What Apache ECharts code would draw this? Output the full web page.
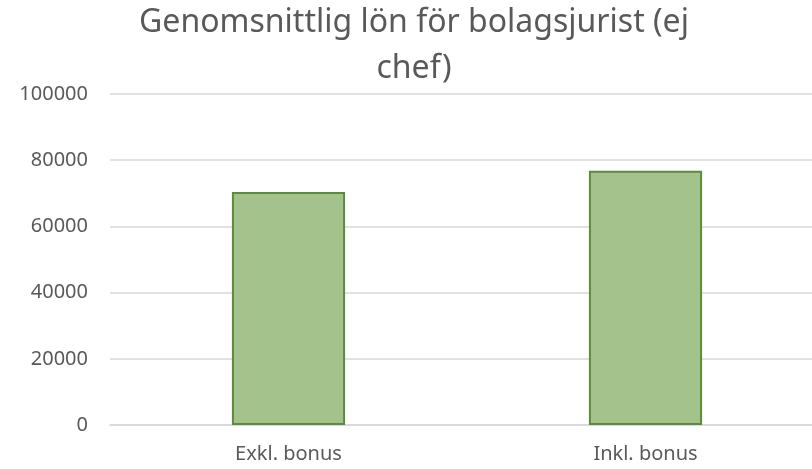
<!DOCTYPE html>
<html>
<head>
<meta charset="utf-8">
<script src="https://cdn.jsdelivr.net/npm/echarts@6/dist/echarts.min.js"></script>
<style>
  html, body { margin: 0; padding: 0; background: #fff; }
  #chart { width: 812px; height: 469px; }
</style>
</head>
<body>
<div id="chart"></div>
<script>
// data
const categories = ['Exkl. bonus', 'Inkl. bonus']
const salary     = [70400, 76800]
const yMin = 0, yMax = 100000, yStep = 20000

const TEXT   = '#595959'
const GRID   = '#d9d9d9'
const FILL   = '#a4c28c'
const BORDER = '#5b8c3c'
const FONT   = '"Noto Sans", sans-serif'

const chart = echarts.init(document.getElementById('chart'), null, { renderer: 'canvas' })

chart.setOption({
  animation: false,
  title: {
    text: 'Genomsnittlig lön för bolagsjurist (ej\nchef)',
    left: 414,
    textAlign: 'center',
    top: 0,
    padding: [0, 0, 0, 0],
    textStyle: { fontFamily: FONT, fontSize: 32, fontWeight: 'normal', color: TEXT, lineHeight: 46 },
  },
  grid: { left: 110, top: 94, width: 714, height: 331, outerBoundsMode: 'none' },
  xAxis: {
    type: 'category',
    data: categories,
    axisLine: { lineStyle: { color: GRID, width: 1.5 } },
    axisTick: { show: false },
    axisLabel: { color: TEXT, fontFamily: FONT, fontSize: 20, margin: 19 },
  },
  yAxis: {
    type: 'value',
    min: yMin,
    max: yMax,
    interval: yStep,
    axisLine: { show: false },
    axisTick: { show: false },
    axisLabel: { color: TEXT, fontFamily: FONT, fontSize: 20, margin: 22, formatter: v => String(v) },
    splitLine: { lineStyle: { color: GRID, width: 1.5 } },
  },
  series: [{
    type: 'bar',
    data: salary,
    barWidth: '31.7%',
    itemStyle: { color: FILL, borderColor: BORDER, borderWidth: 2 },
  }],
})
</script>
</body>
</html>
